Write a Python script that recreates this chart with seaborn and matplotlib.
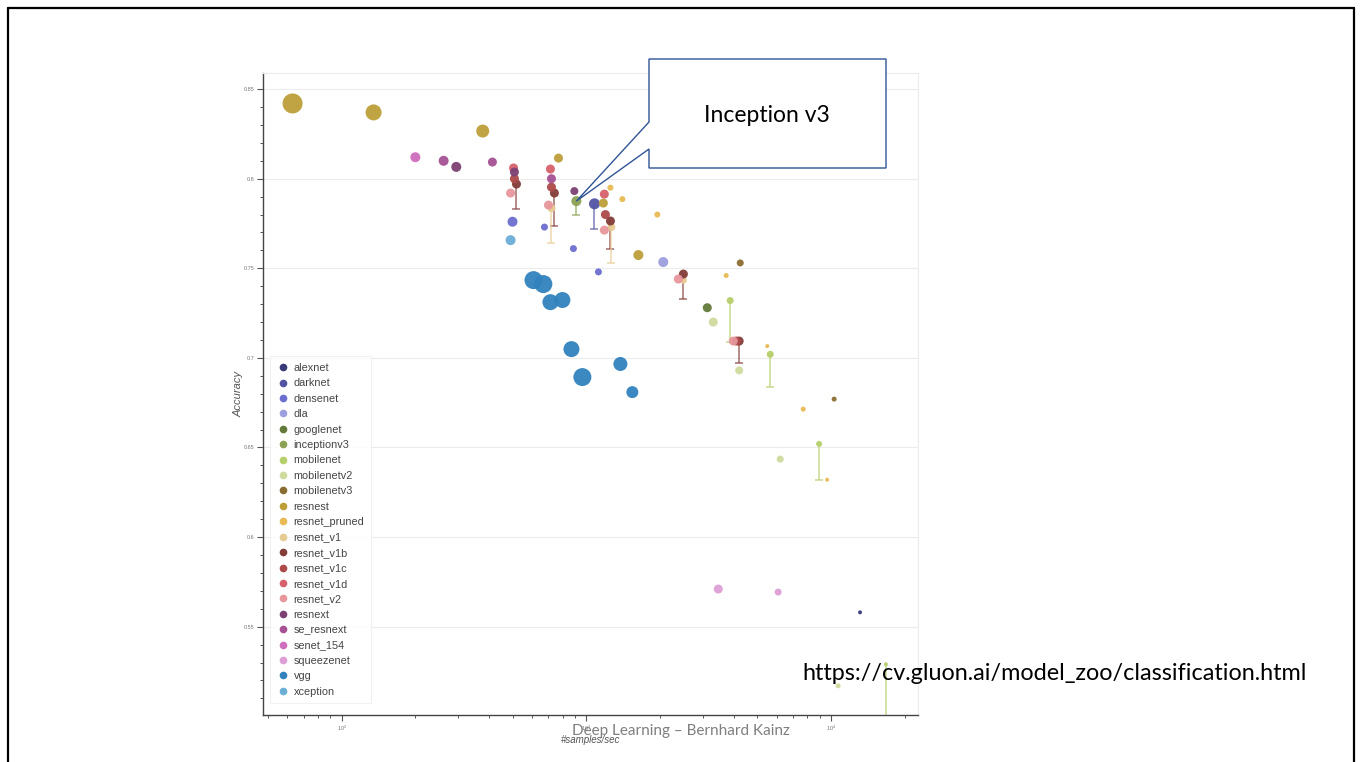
import numpy as np
import pandas as pd
import matplotlib
matplotlib.use('Agg')
import matplotlib.pyplot as plt
import seaborn as sns
from matplotlib.lines import Line2D
from matplotlib.patches import Polygon
from matplotlib.ticker import LogLocator, MultipleLocator, FuncFormatter, NullFormatter

# -----------------------------------------------------------
# DATA: GluonCV model zoo, accuracy vs throughput
# -----------------------------------------------------------
families = ['alexnet', 'darknet', 'densenet', 'dla', 'googlenet', 'inceptionv3',
            'mobilenet', 'mobilenetv2', 'mobilenetv3', 'resnest', 'resnet_pruned',
            'resnet_v1', 'resnet_v1b', 'resnet_v1c', 'resnet_v1d', 'resnet_v2',
            'resnext', 'se_resnext', 'senet_154', 'squeezenet', 'vgg', 'xception']

family_colors = ['#393b79', '#5254a3', '#6b6ecf', '#9c9ede', '#637939', '#8ca252',
                 '#b5cf6b', '#cedb9c', '#8c6d31', '#bd9e39', '#e7ba52', '#e7cb94',
                 '#843c39', '#ad494a', '#d6616b', '#e7969c', '#7b4173', '#a55194',
                 '#ce6dbd', '#de9ed6', '#3182bd', '#6baed6']

point_model = (['alexnet'] + ['darknet'] + ['densenet'] * 4 + ['dla'] + ['googlenet']
               + ['inceptionv3'] + ['mobilenet'] * 4 + ['mobilenetv2'] * 4
               + ['mobilenetv3'] * 2 + ['resnest'] * 6 + ['resnet_pruned'] * 7
               + ['resnet_v1'] * 3 + ['resnet_v1b'] * 5 + ['resnet_v1c'] * 4
               + ['resnet_v1d'] * 3 + ['resnet_v2'] * 5 + ['resnext'] * 3
               + ['se_resnext'] * 3 + ['senet_154'] + ['squeezenet'] * 2
               + ['vgg'] * 8 + ['xception'])

point_speed = [13130,
               1079,
               499, 674, 885, 1120,
               2061,
               3119,
               910,
               3869, 5641, 8933, 16750,
               3300, 4210, 6196, 10680,
               4253, 10290,
               63, 135, 377, 769, 1173, 1631,
               1254, 1403, 1949, 3726, 5483, 7690, 9634,
               720, 1265, 2491,
               518, 740, 1254, 2491, 4210,
               508, 720, 1196, 4100,
               504, 713, 1184,
               490, 700, 1184, 2375, 3982,
               294, 508, 893,
               261, 413, 720,
               200,
               3459, 6075,
               608, 667, 713, 798, 869, 963, 1377, 1541,
               490]

point_acc = [0.558,
             0.786,
             0.776, 0.773, 0.761, 0.748,
             0.7535,
             0.728,
             0.7875,
             0.732, 0.702, 0.652, 0.529,
             0.720, 0.693, 0.6435, 0.517,
             0.753, 0.677,
             0.842, 0.837, 0.8266, 0.8115, 0.7864, 0.7574,
             0.795, 0.7886, 0.780, 0.746, 0.7066, 0.6714, 0.632,
             0.7836, 0.773, 0.7434,
             0.797, 0.792, 0.7764, 0.7468, 0.7094,
             0.800, 0.7953, 0.780, 0.7094,
             0.806, 0.8054, 0.7914,
             0.792, 0.7853, 0.7713, 0.744, 0.7094,
             0.8066, 0.8037, 0.7931,
             0.810, 0.8093, 0.800,
             0.812,
             0.571, 0.5693,
             0.7434, 0.7412, 0.7311, 0.7323, 0.7049, 0.6893, 0.6966, 0.6809,
             0.7657]

# relative model size (drives the marker size)
point_size = [4,
              11,
              10, 7, 7, 7,
              10,
              9,
              10,
              7, 7, 6, 4,
              9, 8, 7, 5,
              7, 5,
              20, 16, 13, 9, 9, 10,
              6, 6, 6, 5, 4, 5, 4,
              8, 8, 7,
              9, 9, 9, 9, 9,
              9, 9, 9, 9,
              9, 9, 9,
              9, 9, 9, 9, 9,
              10, 9, 8,
              10, 9, 9,
              10,
              9, 7,
              18, 18, 16, 16, 16, 18, 14, 12,
              10]

# accuracy ranges (whiskers)
err_model = ['resnet_v1b', 'resnet_v1b', 'resnet_v1b', 'resnet_v1b', 'resnet_v1b',
             'resnet_v1', 'resnet_v1', 'inceptionv3', 'darknet',
             'mobilenet', 'mobilenet', 'mobilenet', 'mobilenet']
err_speed = [518, 740, 1254, 2491, 4210, 720, 1265, 910, 1079, 3869, 5641, 8933, 16750]
err_top = [0.797, 0.792, 0.7764, 0.7468, 0.7094, 0.7836, 0.773, 0.7875, 0.786,
           0.732, 0.702, 0.652, 0.529]
err_bottom = [0.783, 0.7735, 0.761, 0.733, 0.697, 0.764, 0.753, 0.7797, 0.772,
              0.709, 0.6837, 0.632, 0.49]

df = pd.DataFrame({'model': point_model, 'speed': point_speed,
                   'accuracy': point_acc, 'size': point_size})
palette = dict(zip(families, family_colors))

# -----------------------------------------------------------
# FIGURE (slide) + AXES
# -----------------------------------------------------------
sns.set_style('white')
plt.rcParams['font.family'] = ['Liberation Sans', 'DejaVu Sans']

W, H = 1362, 762
fig = plt.figure(figsize=(W / 100, H / 100), dpi=100)
ax = fig.add_axes([263 / W, 1 - 715 / H, 655 / W, 642 / H])

# whiskers first, under the dots
for m, xs, yt, yb in zip(err_model, err_speed, err_top, err_bottom):
    c = palette[m]
    ax.vlines(xs, yb, yt, color=c, alpha=0.75, lw=1.1, zorder=1)
    ax.plot([xs], [yb], marker='_', ms=6, mew=1.1, color=c, alpha=0.75, zorder=1)

size_map = {v: (v * 0.72) ** 2 for v in sorted(set(point_size))}
sns.scatterplot(data=df, x='speed', y='accuracy', hue='model', hue_order=families,
                palette=palette, size='size', sizes=size_map, linewidth=0,
                alpha=0.95, legend=False, ax=ax, zorder=2)

ax.set_xscale('log')
ax.set_xlim(47.7, 22650)
ax.set_ylim(0.5007, 0.859)

# ticks
ax.xaxis.set_major_locator(LogLocator(base=10))
ax.xaxis.set_minor_locator(LogLocator(base=10, subs=np.arange(2, 10)))
ax.xaxis.set_minor_formatter(NullFormatter())
ax.yaxis.set_major_locator(MultipleLocator(0.05))
ax.yaxis.set_minor_locator(MultipleLocator(0.01))
ax.yaxis.set_major_formatter(FuncFormatter(lambda v, p: '%g' % round(v, 2)))
ax.tick_params(axis='both', which='major', direction='out', length=4, width=0.8,
               color='#555555', labelsize=4, labelcolor='#777777', pad=2,
               left=True, bottom=True)
ax.tick_params(axis='both', which='minor', direction='out', length=2.5, width=0.7,
               color='#555555', left=True, bottom=True)

ax.grid(axis='y', which='major', color='#ececec', lw=0.8)
ax.grid(axis='x', visible=False)
for s in ['left', 'bottom']:
    ax.spines[s].set_color('#444444')
    ax.spines[s].set_linewidth(1.0)
for s in ['top', 'right']:
    ax.spines[s].set_color('#ececec')
    ax.spines[s].set_linewidth(0.8)

ax.set_xlabel('#samples/sec', fontsize=7, style='italic', color='#555555', labelpad=2)
ax.set_ylabel('Accuracy', fontsize=8, style='italic', color='#555555', labelpad=0)

# legend (colour only)
handles = [Line2D([0], [0], marker='o', ls='', ms=4.5, mfc=c, mec=c, label=f)
           for f, c in zip(families, family_colors)]
leg = ax.legend(handles=handles, loc='lower left', bbox_to_anchor=(0.003, 0.01),
                fontsize=7.8, labelspacing=0.5, handletextpad=0.35, handlelength=1.2,
                borderpad=0.6, frameon=True, fancybox=False, labelcolor='#444444')
leg.get_frame().set_edgecolor('#eeeeee')
leg.get_frame().set_linewidth(0.8)

# -----------------------------------------------------------
# SLIDE OVERLAYS: frame, callout, url, footer
# -----------------------------------------------------------
def fpx(x, y):
    return (x / W, 1 - y / H)

for (x0, y0), (x1, y1) in [((8, 8), (1354, 8)), ((8, 8), (8, 762)), ((1354, 8), (1354, 762))]:
    fig.add_artist(Line2D([x0 / W, x1 / W], [1 - y0 / H, 1 - y1 / H],
                          color='black', lw=1.6, transform=fig.transFigure))

# callout pointing at inceptionv3
i3 = df[df['model'] == 'inceptionv3'].iloc[0]
tip_disp = ax.transData.transform((i3['speed'], i3['accuracy']))
tip = fig.transFigure.inverted().transform(tip_disp)
callout = Polygon([fpx(649, 59), fpx(886, 59), fpx(886, 168), fpx(649, 168),
                   fpx(649, 149), tuple(tip), fpx(649, 122)],
                  closed=True, facecolor='white', edgecolor='#2f5597', lw=1.0,
                  transform=fig.transFigure, zorder=10)
fig.add_artist(callout)
fig.text(767 / W, 1 - 115 / H, 'Inception v3', fontsize=16.5, family='Lato',
         ha='center', va='center', color='black', zorder=11)

fig.text(1055 / W, 1 - 673 / H, 'https://cv.gluon.ai/model_zoo/classification.html',
         fontsize=16.8, family='Lato', ha='center', va='center', color='black')
fig.text(681 / W, 1 - 731 / H, 'Deep Learning \u2013 Bernhard Kainz',
         fontsize=11, family='Lato', ha='center', va='center', color='#7f7f7f')

fig.savefig('out.png', dpi=100)
